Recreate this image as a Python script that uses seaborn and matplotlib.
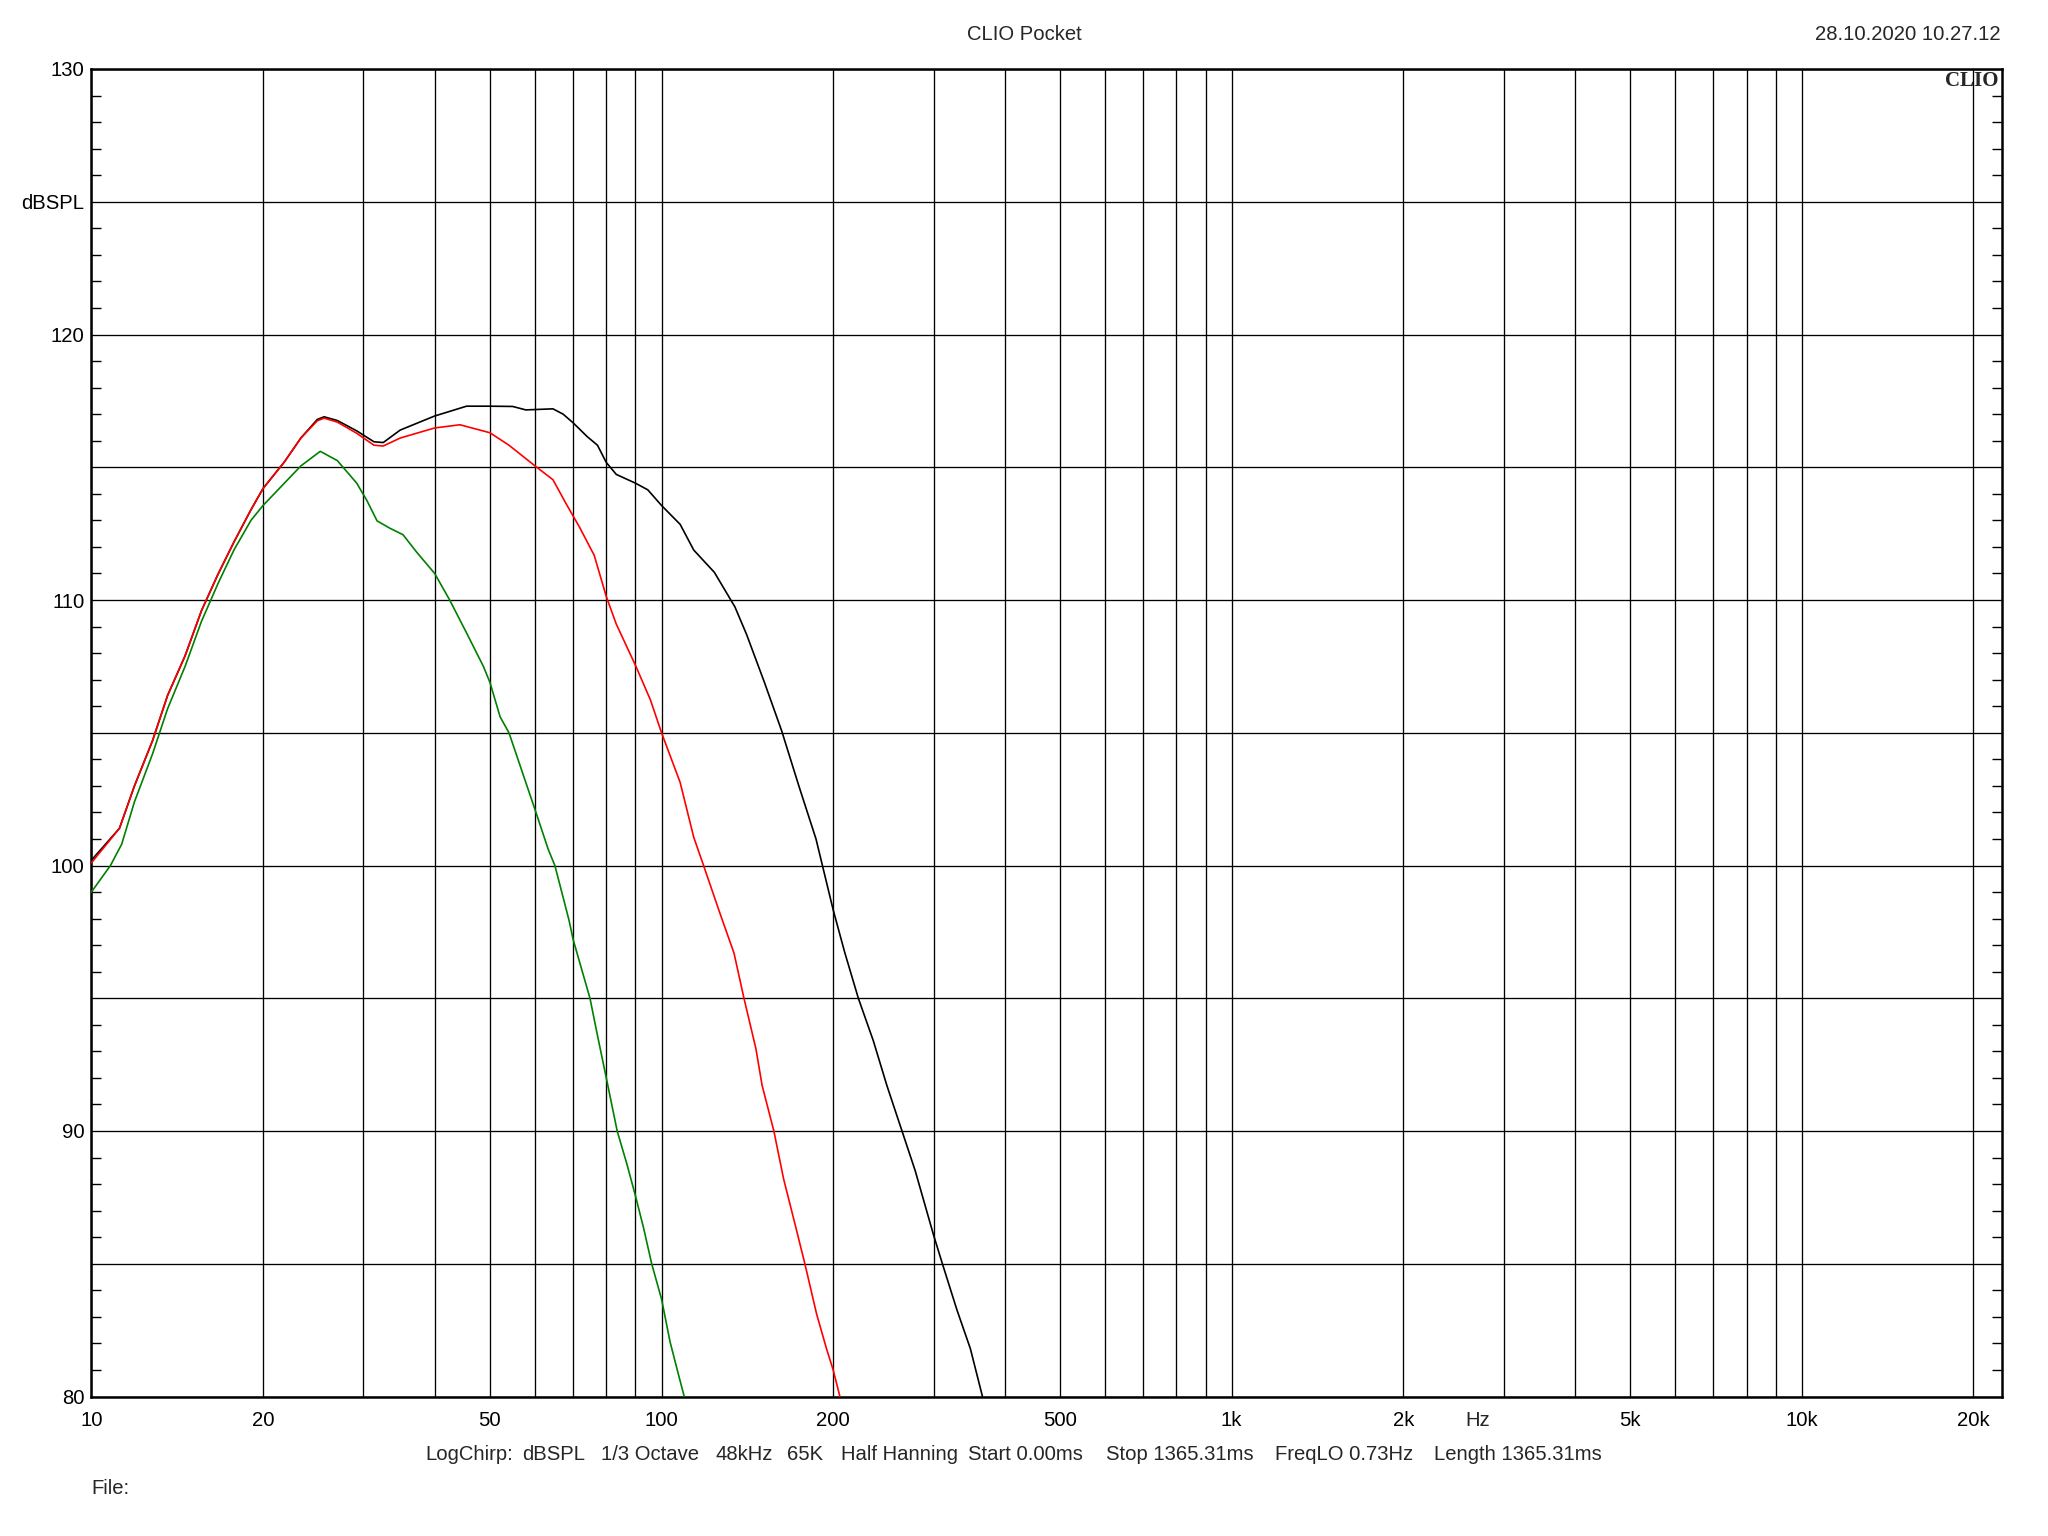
import numpy as np
import pandas as pd
import matplotlib
matplotlib.use("Agg")
import matplotlib.pyplot as plt
import seaborn as sns
from matplotlib.ticker import FixedLocator, NullLocator, FixedFormatter
import matplotlib.transforms as mtransforms

sns.set_style("white")
plt.rcParams['font.family'] = ['Liberation Sans', 'DejaVu Sans']

# ---------------- data ----------------
freq_black = [10, 11.2, 11.9, 12.8, 13.6, 14.6, 15.6, 16.7, 17.8, 19.05, 20, 21.8, 23.3, 24.9,
              25.6, 27.0, 29.2, 31.3, 32.5, 34.8, 40, 45.5, 50, 54.8, 57.8, 64.5, 67.2, 70,
              74.1, 77.2, 80, 83.3, 90, 94.6, 100, 107.8, 113.9, 123.8, 134.5, 141, 151.5,
              162.4, 174.1, 186.6, 200, 209.6, 221.4, 235.2, 248.4, 264.1, 278.6, 300,
              310.9, 329.6, 348.1, 365.5]
db_black = [100.2, 101.4, 103.0, 104.7, 106.4, 107.9, 109.6, 111.0, 112.2, 113.4, 114.2, 115.2,
            116.1, 116.8, 116.9, 116.76, 116.37, 115.96, 115.93, 116.4, 116.93, 117.3, 117.3,
            117.29, 117.16, 117.2, 117.0, 116.67, 116.15, 115.83, 115.18, 114.73, 114.4,
            114.15, 113.56, 112.85, 111.88, 111.04, 109.74, 108.7, 106.9, 105.08, 103.0,
            101.0, 98.33, 96.72, 95.0, 93.4, 91.72, 90.0, 88.5, 86.08, 85.0, 83.27, 81.8, 80.0]

freq_red = [10, 11.2, 11.9, 12.8, 13.6, 14.6, 15.6, 16.7, 17.8, 19.05, 20, 21.8, 23.3, 24.9,
            25.6, 27.0, 29.2, 31.3, 32.5, 34.8, 40, 44.3, 50, 54.0, 60, 64.5, 68.0, 71.9,
            76.2, 80, 83.3, 90, 95.6, 100, 107.8, 113.9, 118.5, 126.6, 134, 139.5, 146.4,
            150.1, 157.4, 163.7, 171.4, 178.4, 187.1, 194.7, 200, 205.5]
db_red = [100.1, 101.4, 103.0, 104.7, 106.4, 107.9, 109.6, 111.0, 112.2, 113.4, 114.2, 115.2,
          116.1, 116.75, 116.85, 116.7, 116.28, 115.83, 115.8, 116.1, 116.48, 116.6, 116.3,
          115.83, 115.05, 114.53, 113.63, 112.72, 111.68, 110.13, 109.09, 107.54, 106.24,
          105.0, 103.13, 101.06, 100.0, 98.2, 96.7, 95.0, 93.1, 91.72, 90.0, 88.2, 86.5,
          85.0, 83.1, 81.8, 81.0, 80.0]

freq_green = [10, 10.8, 11.3, 11.9, 12.8, 13.6, 14.6, 15.6, 16.7, 17.8, 19.05, 20, 21.8, 23.3,
              25.2, 27.0, 29.2, 30.4, 31.7, 33.4, 35.2, 37.2, 40, 42.5, 45.4, 48.7, 50, 52.1,
              54.0, 60, 63.3, 65.0, 68.8, 70, 74.9, 77.2, 80, 83.6, 86.9, 90, 93.0, 96.1, 100,
              103.5, 107.0, 109.6]
db_green = [99.0, 100.0, 100.8, 102.4, 104.2, 105.9, 107.5, 109.2, 110.65, 111.9, 113.0, 113.56,
            114.4, 115.05, 115.6, 115.25, 114.4, 113.76, 112.98, 112.7, 112.46, 111.8, 111.0,
            110.0, 108.8, 107.5, 106.9, 105.6, 105.0, 102.1, 100.6, 100.0, 97.95, 97.2, 95.0,
            93.6, 92.0, 90.0, 88.77, 87.56, 86.35, 85.0, 83.67, 82.06, 80.85, 80.0]

x_label_pos = [10, 20, 50, 100, 200, 500, 1000, 2000, 5000, 10000, 20000]
x_label_txt = ["10", "20", "50", "100", "200", "500", "1k", "2k", "5k", "10k", "20k"]
y_label_pos = [80, 85, 90, 95, 100, 105, 110, 115, 120, 125, 130]
y_label_txt = ["80", "", "90", "", "100", "", "110", "", "120", "dBSPL", "130"]

title_txt = "CLIO Pocket"
date_txt = "28.10.2020 10.27.12"
info_items = ["LogChirp:", "dBSPL", "1/3 Octave", "48kHz", "65K", "Half Hanning",
              "Start 0.00ms", "Stop 1365.31ms", "FreqLO 0.73Hz", "Length 1365.31ms"]
info_x_px = [425.8, 522.4, 600.8, 715.7, 787.5, 841.1, 967.8, 1106.2, 1274.7, 1434.0]

FS = 14.6

# ---------------- figure ----------------
W, H = 2048, 1536
fig = plt.figure(figsize=(W / 100, H / 100), dpi=100)
fig.patch.set_facecolor("white")
L, R, T, B = 91.4, 2001.5, 69.0, 1396.5
ax = fig.add_axes([L / W, 1 - B / H, (R - L) / W, (B - T) / H])
ax.set_facecolor("white")

for fr, db, col in [(freq_black, db_black, "black"),
                    (freq_green, db_green, "#008000"),
                    (freq_red, db_red, "#ff0000")]:
    d = pd.DataFrame({"freq": fr, "db": db})
    sns.lineplot(data=d, x="freq", y="db", ax=ax, color=col, linewidth=1.2,
                 estimator=None, sort=False, zorder=3)

ax.set_xscale("log")
ax.set_xlim(10, 22400)
ax.set_ylim(80, 130)
ax.set_xlabel("")
ax.set_ylabel("")

# vertical grid lines at every 1-9 multiple per decade
grid_x = [k * 10 ** d for d in range(1, 5) for k in range(1, 10) if k * 10 ** d <= 20000]
labels_x = [x_label_txt[x_label_pos.index(g)] if g in x_label_pos else "" for g in grid_x]
ax.xaxis.set_major_locator(FixedLocator(grid_x))
ax.xaxis.set_major_formatter(FixedFormatter(labels_x))
ax.xaxis.set_minor_locator(NullLocator())
ax.yaxis.set_major_locator(FixedLocator(y_label_pos))
ax.yaxis.set_major_formatter(FixedFormatter(y_label_txt))
ax.yaxis.set_minor_locator(FixedLocator(list(range(80, 131))))

ax.grid(True, which="major", color="black", linewidth=0.95)
ax.set_axisbelow(True)
ax.tick_params(axis="x", which="major", length=0, pad=10.5, labelsize=FS, colors="black")
ax.tick_params(axis="y", which="major", length=0, pad=5, labelsize=FS, colors="black")
ax.tick_params(axis="y", which="minor", direction="in", length=7.5, width=1.0,
               left=True, right=True, color="black")

for s in ax.spines.values():
    s.set_visible(True)
    s.set_color("black")
    s.set_linewidth(1.8)

# "Hz" unit label among x tick labels
trans = mtransforms.blended_transform_factory(ax.transData, fig.transFigure)
ax.text(2700, 1 - 1421 / H, "Hz", transform=trans, ha="center", va="center", fontsize=FS)

# header texts
fig.text(1024 / W, 1 - 35 / H, title_txt, ha="center", va="center", fontsize=FS)
fig.text(2001 / W, 1 - 35 / H, date_txt, ha="right", va="center", fontsize=FS)
fig.text(1999 / W, 1 - 71 / H, "CLIO", ha="right", va="top", fontsize=15,
         family="Liberation Serif", fontweight="bold")

# measurement info line
for item, xp in zip(info_items, info_x_px):
    fig.text(xp / W, 1 - 1455 / H, item, ha="left", va="center", fontsize=FS)
fig.text(91 / W, 1 - 1489 / H, "File:", ha="left", va="center", fontsize=FS)

fig.savefig("out.png", dpi=100, facecolor="white")
